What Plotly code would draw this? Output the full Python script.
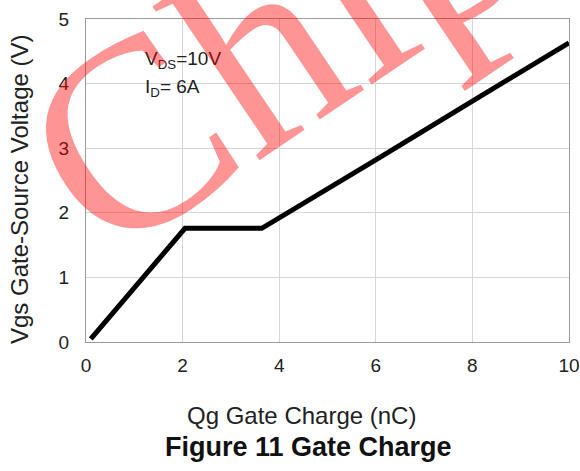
import plotly.graph_objects as go

# Data
qg_nc = [0.1, 2.05, 3.64, 4.0, 6.0, 8.0, 10.0]
vgs_v = [0.05, 1.76, 1.76, 1.92, 2.82, 3.73, 4.63]
x_ticks = [0, 2, 4, 6, 8, 10]
y_ticks = [0, 1, 2, 3, 4, 5]

W, H = 580, 471
L, R, T, B = 86, 11, 19, 129
pw, ph = W - L - R, H - T - B

def px(xp):
    return (xp - L) / pw

def py(yp):
    return (H - B - yp) / ph

fig = go.Figure()
fig.add_trace(go.Scatter(x=qg_nc, y=vgs_v, mode="lines",
                         line=dict(color="black", width=5), showlegend=False))

font = "Liberation Sans, Arial, sans-serif"
axis_common = dict(showgrid=True, gridcolor="#d6d6d6", gridwidth=1, automargin=False,
                   zeroline=False, showline=True, linecolor="#9a9a9a", linewidth=1,
                   mirror=True, ticks="", tickfont=dict(family=font, size=19, color="#222"))
fig.update_xaxes(range=[0, 10], tickvals=x_ticks, ticklabelstandoff=6, **axis_common)
fig.update_yaxes(range=[0, 5], tickvals=y_ticks, ticklabelstandoff=12, **axis_common)

anns = [
    dict(x=px(143), y=py(60), text="V<sub>DS</sub>=10V", xanchor="left", yanchor="middle",
         font=dict(family=font, size=19, color="#222")),
    dict(x=px(143), y=py(88), text="I<sub>D</sub>= 6A", xanchor="left", yanchor="middle",
         font=dict(family=font, size=19, color="#222")),
    dict(x=px(301), y=py(415), text="Qg Gate Charge (nC)", xanchor="center", yanchor="middle",
         font=dict(family=font, size=24, color="#222")),
    dict(x=px(308), y=py(447), text="<b>Figure 11 Gate Charge</b>", xanchor="center", yanchor="middle",
         font=dict(family=font, size=27, color="#111")),
    dict(x=px(19), y=py(189), text="Vgs Gate-Source Voltage (V)", textangle=-90,
         xanchor="center", yanchor="middle", font=dict(family=font, size=24, color="#222")),
    dict(x=px(272), y=py(42), text="Chip", textangle=-34, xanchor="center", yanchor="middle",
         font=dict(family="Liberation Serif, Times New Roman, serif", size=270,
                   color="rgba(255,0,0,0.42)")),
]
for a in anns:
    a.update(xref="paper", yref="paper", showarrow=False)
fig.update_layout(annotations=anns)

fig.update_layout(width=W, height=H, margin=dict(l=L, r=R, t=T, b=B),
                  paper_bgcolor="white", plot_bgcolor="white")
fig.write_html("out.html", config={"displayModeBar": False},
               post_script="document.body.style.margin='0';document.body.style.overflow='hidden';")
